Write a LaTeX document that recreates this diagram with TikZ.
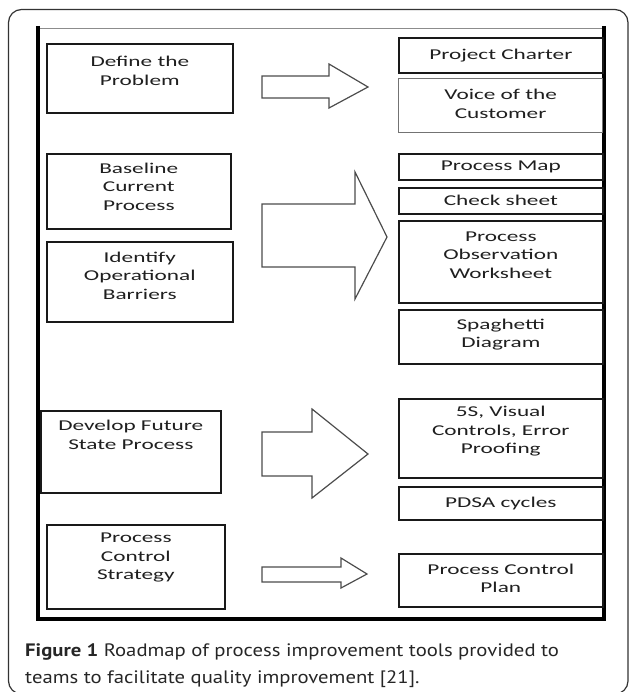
\documentclass[tikz,border=0pt]{standalone}
\usepackage{fontspec}
\newfontfamily\boxfont[FakeStretch=1.55]{Carlito}
\newfontfamily\capfont[FakeStretch=1.15]{PT Sans}
\usetikzlibrary{positioning}
\tikzset{
  boxstyle/.style={draw=black!90, line width=1.6pt, rectangle, inner sep=0pt, anchor=north west},
  lightbox/.style={draw=black!55, line width=1.2pt, rectangle, inner sep=0pt, anchor=north west},
  txt/.style={align=center, inner sep=0pt, font=\boxfont\fontsize{15}{18.5}\selectfont, text=black!88},
  blockarrow/.style={draw=black!70, line width=1.2pt, line join=miter},
  framethick/.style={line width=4pt, black},
}
\begin{document}
\begin{tikzpicture}[x=1pt, y=-1pt]
\useasboundingbox (0,0) rectangle (630,692);
% outer rounded frame
\draw[line width=1.2pt, black!80, rounded corners=13pt] (8.5,9.5) rectangle (628,694);
% inner frame
\draw[black!45, line width=0.8pt] (38,28) -- (604,28);
\draw[framethick] (38,26) -- (38,619) -- (604,619) -- (604,26);

% left boxes
\node[boxstyle, minimum width=186pt, minimum height=69pt] (define) at (46,43) {};
\node[txt] (definet) at ([yshift=7.5pt]define.center) {Define the\\Problem};
\node[boxstyle, minimum width=184pt, minimum height=75pt] (baseline) at (46,153) {};
\node[txt] (baselinet) at ([yshift=4.5pt]baseline.center) {Baseline\\Current\\Process};
\node[boxstyle, minimum width=186pt, minimum height=80pt] (identify) at (46,241) {};
\node[txt] (identifyt) at ([yshift=6pt]identify.center) {Identify\\Operational\\Barriers};
\node[boxstyle, minimum width=180pt, minimum height=82pt] (develop) at (40,410) {};
\node[txt] (developt) at ([yshift=17pt]develop.center) {Develop Future\\State Process};
\node[boxstyle, minimum width=178pt, minimum height=84pt] (pcs) at (46,524) {};
\node[txt] (pcst) at ([yshift=9pt]pcs.center) {Process\\Control\\Strategy};

% right boxes
\node[boxstyle, minimum width=204pt, minimum height=35pt] (pc) at (398,37) {};
\node[txt] (pct) at (pc.center) {Project Charter};
\node[lightbox, minimum width=204pt, minimum height=54pt] (voc) at (398,78) {};
\node[txt] (voct) at ([yshift=1.5pt]voc.center) {Voice of the\\Customer};
\node[boxstyle, minimum width=204pt, minimum height=26pt] (pm) at (398,153) {};
\node[txt] (pmt) at (pm.center) {Process Map};
\node[boxstyle, minimum width=204pt, minimum height=26pt] (cs) at (398,187) {};
\node[txt] (cst) at (cs.center) {Check sheet};
\node[boxstyle, minimum width=204pt, minimum height=82pt] (pow) at (398,220) {};
\node[txt] (powt) at ([yshift=7pt]pow.center) {Process\\Observation\\Worksheet};
\node[boxstyle, minimum width=204pt, minimum height=54pt] (spag) at (398,309) {};
\node[txt] (spagt) at ([yshift=2pt]spag.center) {Spaghetti\\Diagram};
\node[boxstyle, minimum width=204pt, minimum height=79pt] (fives) at (398,398) {};
\node[txt] (fivest) at ([yshift=7pt]fives.center) {5S, Visual\\Controls, Error\\Proofing};
\node[boxstyle, minimum width=204pt, minimum height=33pt] (pdsa) at (398,486) {};
\node[txt] (pdsat) at (pdsa.center) {PDSA cycles};
\node[boxstyle, minimum width=204pt, minimum height=53pt] (pcp) at (398,553) {};
\node[txt] (pcpt) at ([yshift=2pt]pcp.center) {Process Control\\Plan};

% block arrows
\draw[blockarrow] (262,76) -- (329,76) -- (329,64) -- (368,87) -- (329,108) -- (329,98) -- (262,98) -- cycle;
\draw[blockarrow] (262,204) -- (355,204) -- (355,172) -- (387,237) -- (355,299) -- (355,267) -- (262,267) -- cycle;
\draw[blockarrow] (262,432) -- (312,432) -- (312,409) -- (368,454) -- (312,498) -- (312,476) -- (262,476) -- cycle;
\draw[blockarrow] (262,567) -- (341,567) -- (341,558) -- (367,574) -- (341,588) -- (341,582) -- (262,582) -- cycle;

% caption
\node[anchor=base west, align=left, inner sep=0pt, text=black!85,
      font=\capfont\fontsize{18}{27}\selectfont] (caption) at (25,683)
  {\textbf{Figure 1} Roadmap of process improvement tools provided to\\teams to facilitate quality improvement [21].};
\end{tikzpicture}
\end{document}
